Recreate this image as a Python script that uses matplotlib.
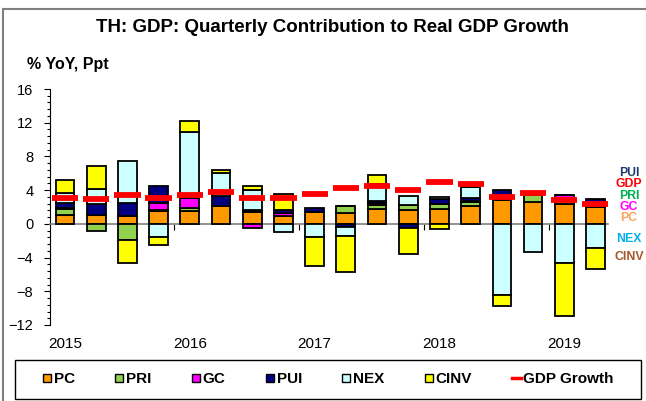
import numpy as np
import matplotlib.pyplot as plt
from matplotlib.lines import Line2D
from matplotlib.patches import Rectangle

plt.rcParams['font.family'] = ['Liberation Sans', 'DejaVu Sans']

# quarters 2015Q1 .. 2019Q2
years = ['2015', '2016', '2017', '2018', '2019']
pc = [1.1, 1.1, 0.95, 1.5, 1.55, 2.15, 1.35, 0.9, 1.35, 1.25, 1.75, 1.6, 1.75, 2.15, 2.8, 2.55, 2.3, 2.0]
pri = [0.65, -0.8, -1.9, 0.1, 0.3, 0.0, 0.0, 0.0, 0.0, 0.9, 0.5, 0.6, 0.55, 0.45, 0.3, 0.9, 0.6, 0.3]
gc = [0.15, 0.0, 0.0, 0.9, 1.2, 0.0, -0.45, 0.4, 0.0, 0.0, 0.2, 0.0, 0.0, 0.1, 0.2, 0.0, 0.55, 0.1]
pui = [0.6, 1.3, 1.55, 1.95, 0.0, 1.2, 0.3, 0.35, 0.5, -0.4, 0.3, -0.55, 0.65, 0.35, 0.75, 0.0, 0.0, 0.6]
nex = [1.2, 1.7, 4.9, -1.5, 7.85, 2.7, 2.4, -0.95, -1.5, -1.05, 1.95, 1.05, 0.25, 1.35, -8.45, -3.35, -4.6, -2.9]
cinv = [1.5, 2.8, -2.8, -1.0, 1.3, 0.35, 0.45, 1.85, -3.45, -4.25, 1.1, -3.0, -0.65, 0.0, -1.3, 0.0, -6.3, -2.5]
gdp = [3.1, 2.9, 3.45, 3.1, 3.45, 3.8, 3.1, 3.1, 3.5, 4.2, 4.5, 4.0, 5.0, 4.7, 3.2, 3.65, 2.85, 2.35]

names = ['PC', 'PRI', 'GC', 'PUI', 'NEX', 'CINV']
colors = ['#FF9900', '#92D050', '#FF00FF', '#000080', '#CCFFFF', '#FFFF00']
series = [pc, pri, gc, pui, nex, cinv]

fig = plt.figure(figsize=(6.46, 4.01), dpi=100)
ax = fig.add_axes([50 / 646, 1 - 325 / 401, 558 / 646, 236 / 401])

x = np.arange(len(pc))
pos_bot = np.zeros(len(pc))
neg_bot = np.zeros(len(pc))
for vals, col in zip(series, colors):
    v = np.array(vals)
    bot = np.where(v >= 0, pos_bot, neg_bot)
    ax.bar(x, v, 0.6, bottom=bot, color=col, edgecolor='black', linewidth=1.3, zorder=3)
    pos_bot += np.where(v >= 0, v, 0)
    neg_bot += np.where(v < 0, v, 0)

ax.hlines(gdp, x - 0.42, x + 0.42, color='red', linewidth=4.2, zorder=4)

ax.set_xlim(-0.48, 17.4)
ax.set_ylim(-12, 16)
ax.set_yticks(np.arange(-12, 17, 4))
ax.set_yticks(np.arange(-12, 16.01, 0.8), minor=True)
ax.tick_params(axis='y', which='major', length=4, width=0.8, pad=8, labelsize=10.5)
ax.tick_params(axis='y', which='minor', length=2.5, width=0.8)

for s in ['top', 'right']:
    ax.spines[s].set_visible(False)
ax.spines['left'].set_linewidth(0.8)
ax.spines['bottom'].set_position(('data', 0))
ax.spines['bottom'].set_color('#808080')
ax.spines['bottom'].set_linewidth(1.2)
ax.set_xticks([3.5, 7.5, 11.5, 15.5])
ax.tick_params(axis='x', length=4, width=0.8, color='black', labelbottom=False)

for i, yr in enumerate(years):
    ax.text(i * 4, -14.2, yr, ha='center', va='center', fontsize=11)

fig.text(332 / 646, 1 - 28 / 401, 'TH: GDP: Quarterly Contribution to Real GDP Growth',
         ha='center', va='center', fontsize=13.5, fontweight='bold')
fig.text(27 / 646, 1 - 65 / 401, '% YoY, Ppt', ha='left', va='center',
         fontsize=11.5, fontweight='bold')

# side labels
side = [('PUI', '#1F3A70', 173), ('GDP', '#FF0000', 184), ('PRI', '#00B050', 196),
        ('GC', '#FF00FF', 207), ('PC', '#F9A65A', 218), ('NEX', '#00B0F0', 239),
        ('CINV', '#A5572A', 257)]
for txt, col, yy in side:
    fig.text(629 / 646, 1 - yy / 401, txt, ha='center', va='center',
             fontsize=8.8, fontweight='bold', color=col)

# outer border and legend box
fig.patches.append(Rectangle((3 / 646, -0.05), 1.2, 1 - 9 / 401 + 0.05, transform=fig.transFigure,
                             fill=False, edgecolor='#808080', linewidth=1.5))
fig.patches.append(Rectangle((15 / 646, 1 - 399 / 401), 626 / 646, 39 / 401, transform=fig.transFigure,
                             fill=False, edgecolor='black', linewidth=1.0))

handles = [Line2D([], [], linestyle='none', marker='s', markersize=5.5, markerfacecolor=c,
                  markeredgecolor='black', markeredgewidth=1.0) for c in colors]
handles.append(Line2D([], [], color='red', linewidth=2.5))
labels = names + ['GDP Growth']
fig.legend(handles, labels, loc='center', bbox_to_anchor=(328 / 646, 1 - 379 / 401),
           ncol=7, frameon=False, handlelength=0.6, handletextpad=0.15, columnspacing=2.6,
           prop={'weight': 'bold', 'size': 11})

fig.savefig('out.png', dpi=100)
